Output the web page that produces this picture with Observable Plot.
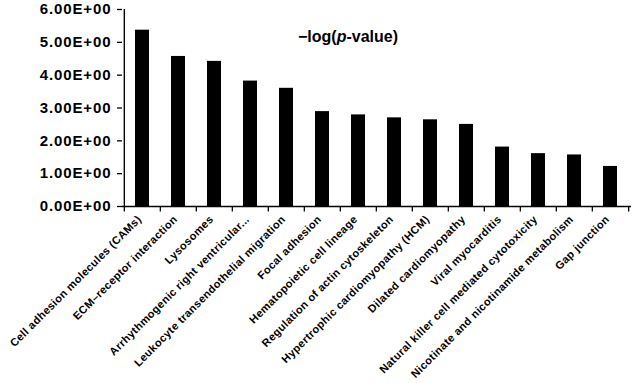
<!DOCTYPE html>
<html>
<head>
<meta charset="utf-8">
<script src="https://cdn.jsdelivr.net/npm/d3@7"></script>
<script src="https://cdn.jsdelivr.net/npm/@observablehq/plot@0.6"></script>
<style>
  html, body { margin: 0; padding: 0; background: #ffffff; }
  #wrap { position: relative; width: 637px; height: 383px; font-family: "Liberation Sans", Arial, sans-serif; }
  #title { position: absolute; left: 298px; top: 29px; font-size: 16px; line-height: 16px; font-weight: bold; white-space: nowrap; color: #000; }
  svg text { font-family: "Liberation Sans", Arial, sans-serif; font-weight: bold; }
</style>
</head>
<body>
<div id="wrap">
  <div id="title">−log(<i>p</i>-value)</div>
</div>
<script>
const categories = [
  "Cell adhesion molecules (CAMs)",
  "ECM–receptor interaction",
  "Lysosomes",
  "Arrhythmogenic right ventricular...",
  "Leukocyte transendothelial migration",
  "Focal adhesion",
  "Hematopoietic cell lineage",
  "Regulation of actin cytoskeleton",
  "Hypertrophic cardiomyopathy (HCM)",
  "Dilated cardiomyopathy",
  "Viral myocarditis",
  "Natural killer cell mediated cytotoxicity",
  "Nicotinate and nicotinamide metabolism",
  "Gap junction"
];
const values = [5.37, 4.57, 4.42, 3.82, 3.60, 2.89, 2.79, 2.70, 2.64, 2.50, 1.81, 1.61, 1.57, 1.22];
const yTicks = [0, 1, 2, 3, 4, 5, 6];

const data = categories.map((c, i) => ({category: c, value: values[i]}));

function sci(d) {
  if (d === 0) return "0.00E+00";
  const e = Math.floor(Math.log10(Math.abs(d)));
  const m = d / Math.pow(10, e);
  const s = e < 0 ? "-" : "+";
  return m.toFixed(2) + "E" + s + String(Math.abs(e)).padStart(2, "0");
}

const W = 637, H = 383;
const mL = 122, mR = 6, mT = 9, mB = 177;
const step = (W - mL - mR) / categories.length;
const last = categories[categories.length - 1];

const chart = Plot.plot({
  width: W,
  height: H,
  marginLeft: mL,
  marginRight: mR,
  marginTop: mT,
  marginBottom: mB,
  style: {background: "transparent", color: "#000", overflow: "visible"},
  x: {domain: categories, paddingInner: 0.6, paddingOuter: 0.3},
  y: {domain: [0, 6]},
  marks: [
    Plot.barY(data, {x: "category", y: "value", fill: "#000"}),
    // y axis line
    Plot.ruleX([categories[0]], {x: d => d, dx: -step / 2, y1: 0, y2: 6, stroke: "#000", strokeWidth: 1.4}),
    // x axis line
    Plot.ruleY([0], {stroke: "#000", strokeWidth: 1.4}),
    // x tick marks at category boundaries
    Plot.ruleX(categories, {x: d => d, dx: -step / 2, y1: 0, y2: -0.17, stroke: "#000", strokeWidth: 1.3}),
    Plot.ruleX([last], {x: d => d, dx: step / 2, y1: 0, y2: -0.17, stroke: "#000", strokeWidth: 1.3}),
    Plot.axisY({
      ticks: yTicks,
      tickFormat: sci,
      tickSize: 5,
      tickPadding: 6,
      fontSize: 15,
      strokeWidth: 1.3,
      label: null
    }),
    Plot.axisX({
      tickSize: 0,
      tickPadding: 11,
      tickRotate: -45,
      fontSize: 11,
      dx: -3,
      label: null
    })
  ]
});

d3.select(chart).selectAll("g[aria-label='y-axis tick label'] text").style("letter-spacing", "0.9px");
d3.select(chart).selectAll("g[aria-label='x-axis tick label'] text").style("letter-spacing", "0.35px");
document.getElementById("wrap").prepend(chart);
chart.style.position = "absolute";
chart.style.left = "0";
chart.style.top = "0";
</script>
</body>
</html>
